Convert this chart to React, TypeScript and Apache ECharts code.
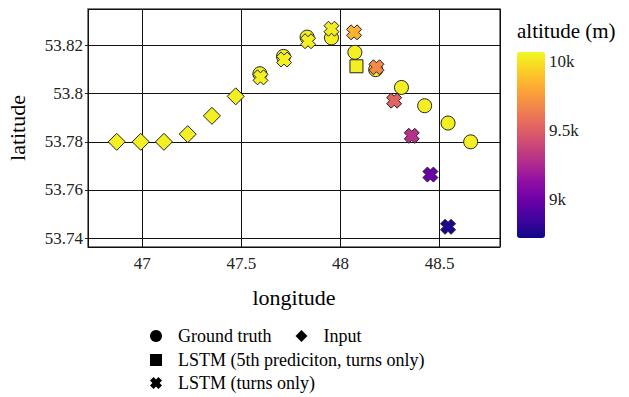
import React, { useEffect, useRef } from "react";
import * as echarts from "echarts";

// Input trajectory (diamonds)
const inputLon = [46.871, 46.992, 47.109, 47.229, 47.351, 47.471];
const inputLat = [53.78, 53.78, 53.78, 53.7832, 53.7908, 53.7989];
const inputAlt = [10040, 10040, 10040, 10040, 10040, 10040];

// Ground truth (circles)
const truthLon = [47.593, 47.712, 47.831, 47.954, 48.072, 48.177, 48.307, 48.424, 48.542, 48.656];
const truthLat = [53.8083, 53.8155, 53.8235, 53.8232, 53.8172, 53.81, 53.8026, 53.795, 53.7878, 53.78];
const truthAlt = [10040, 10040, 10040, 10040, 10040, 10040, 10040, 10040, 10040, 10040];

// LSTM 5th prediction (square)
const fifthLon = [48.08];
const fifthLat = [53.8114];
const fifthAlt = [10040];

// LSTM turns only (crosses)
const lstmLon = [47.596, 47.715, 47.836, 47.954, 48.068, 48.181, 48.27, 48.359, 48.453, 48.542];
const lstmLat = [53.8068, 53.8142, 53.8218, 53.827, 53.8255, 53.811, 53.7971, 53.7825, 53.7664, 53.7447];
const lstmAlt = [10040, 10040, 10040, 10030, 9840, 9690, 9530, 9290, 8990, 8760];

const altMin = 8720;
const altMax = 10070;
const lonMin = 46.726;
const lonMax = 48.804;
const latMin = 53.7363;
const latMax = 53.8352;

const plasma = [
  "#0d0887", "#41049d", "#6a00a8", "#8f0da4", "#b12a90", "#cc4778",
  "#e16462", "#f2844b", "#fca636", "#fcce25", "#f0f921",
];

const names = {
  truth: "Ground truth",
  input: "Input",
  fifth: "LSTM (5th prediciton, turns only)",
  lstm: "LSTM (turns only)",
};

const CROSS = "path://M0,3 L3,0 L5,2 L7,0 L10,3 L8,5 L10,7 L7,10 L5,8 L3,10 L0,7 L2,5 Z";
const FONT = "Liberation Serif";

function zip(a: number[], b: number[], c: number[]) {
  return a.map((v, i) => [v, b[i], c[i]]);
}

export default function App() {
  const ref = useRef<HTMLDivElement>(null);
  useEffect(() => {
    if (!ref.current) return;
    const chart = echarts.init(ref.current, null, { renderer: "svg" });
    const pointStyle = { borderColor: "#222", borderWidth: 1, opacity: 1 };
    const legendText = { fontFamily: FONT, fontSize: 18, color: "#000", padding: [0, 0, 0, 11] };
    chart.setOption({
      animation: false,
      textStyle: { fontFamily: FONT },
      title: {
        text: "altitude (m)",
        left: 517,
        top: 20,
        padding: 0,
        textStyle: { fontFamily: FONT, fontSize: 21, fontWeight: "normal", color: "#000" },
      },
      grid: [
        {
          left: 88,
          right: 129,
          top: 9,
          bottom: 150,
          show: true,
          borderColor: "#555",
          borderWidth: 1.5,
          backgroundColor: "transparent",
          outerBoundsMode: "none",
          containLabel: false,
        },
        {
          left: 517,
          top: 52,
          width: 28,
          height: 186,
          outerBoundsMode: "none",
          containLabel: false,
        },
      ],
      xAxis: [
        {
          type: "value",
          gridIndex: 0,
          min: lonMin,
          max: lonMax,
          splitNumber: 5,
          name: "longitude",
          nameLocation: "middle",
          nameGap: 39,
          nameTextStyle: { fontFamily: FONT, fontSize: 22, color: "#000" },
          axisLine: { show: false },
          axisTick: { show: false },
          axisLabel: {
            showMinLabel: false,
            showMaxLabel: false,
            margin: 8,
            fontFamily: FONT,
            fontSize: 17,
            color: "#222",
            formatter: (v: number) => String(v),
          },
          splitLine: { show: true, lineStyle: { color: "#111", width: 1 } },
        },
        {
          type: "category",
          gridIndex: 1,
          data: [""],
          show: false,
        },
      ],
      yAxis: [
        {
          type: "value",
          gridIndex: 0,
          min: latMin,
          max: latMax,
          splitNumber: 5,
          name: "latitude",
          nameLocation: "middle",
          nameGap: 60,
          nameTextStyle: { fontFamily: FONT, fontSize: 22, color: "#000" },
          axisLine: { show: false },
          axisTick: { show: true, length: 3, lineStyle: { color: "#222" } },
          axisLabel: {
            showMinLabel: false,
            showMaxLabel: false,
            margin: 5,
            fontFamily: FONT,
            fontSize: 17,
            color: "#222",
            formatter: (v: number) => String(Number(v.toFixed(4))),
          },
          splitLine: { show: true, lineStyle: { color: "#111", width: 1 } },
        },
        {
          type: "value",
          gridIndex: 1,
          position: "right",
          min: altMin,
          max: altMax,
          splitNumber: 3,
          axisLine: { show: false },
          axisTick: { show: false },
          splitLine: { show: false },
          axisLabel: {
            showMinLabel: false,
            showMaxLabel: false,
            margin: 4,
            fontFamily: FONT,
            fontSize: 17,
            color: "#222",
            formatter: (v: number) => String(v / 1000) + "k",
          },
        },
      ],
      visualMap: {
        type: "continuous",
        min: altMin,
        max: altMax,
        dimension: 2,
        seriesIndex: [0, 1, 2, 3],
        left: 517,
        top: 52,
        padding: 0,
        itemWidth: 28,
        itemHeight: 186,
        calculable: false,
        text: null,
        inRange: { color: plasma },
      },
      legend: [
        {
          left: 150,
          top: 327,
          padding: 0,
          itemWidth: 12,
          itemHeight: 12,
          itemGap: 24,
          textStyle: legendText,
          selectedMode: false,
          data: [
            { name: names.truth, icon: "circle", itemStyle: { color: "#000", borderWidth: 0 } },
            { name: names.input, icon: "diamond", itemStyle: { color: "#000", borderWidth: 0 } },
          ],
        },
        {
          left: 150,
          top: 351,
          padding: 0,
          itemWidth: 12,
          itemHeight: 12,
          textStyle: legendText,
          selectedMode: false,
          data: [{ name: names.fifth, icon: "rect", itemStyle: { color: "#000", borderWidth: 0 } }],
        },
        {
          left: 150,
          top: 374,
          padding: 0,
          itemWidth: 12,
          itemHeight: 12,
          textStyle: legendText,
          selectedMode: false,
          data: [{ name: names.lstm, icon: CROSS, itemStyle: { color: "#000", borderWidth: 0 } }],
        },
      ],
      series: [
        {
          name: names.input,
          type: "scatter",
          symbol: "diamond",
          symbolSize: 17,
          data: zip(inputLon, inputLat, inputAlt),
          itemStyle: pointStyle,
        },
        {
          name: names.truth,
          type: "scatter",
          symbol: "circle",
          symbolSize: 14,
          data: zip(truthLon, truthLat, truthAlt),
          itemStyle: pointStyle,
        },
        {
          name: names.fifth,
          type: "scatter",
          symbol: "rect",
          symbolSize: 13,
          data: zip(fifthLon, fifthLat, fifthAlt),
          itemStyle: pointStyle,
        },
        {
          name: names.lstm,
          type: "scatter",
          symbol: CROSS,
          symbolSize: 15,
          data: zip(lstmLon, lstmLat, lstmAlt),
          itemStyle: pointStyle,
        },
      ],
    });
    return () => chart.dispose();
  }, []);
  return (
    <div
      ref={ref}
      style={{ position: "absolute", left: 0, top: 0, width: 629, height: 397 }}
    />
  );
}
